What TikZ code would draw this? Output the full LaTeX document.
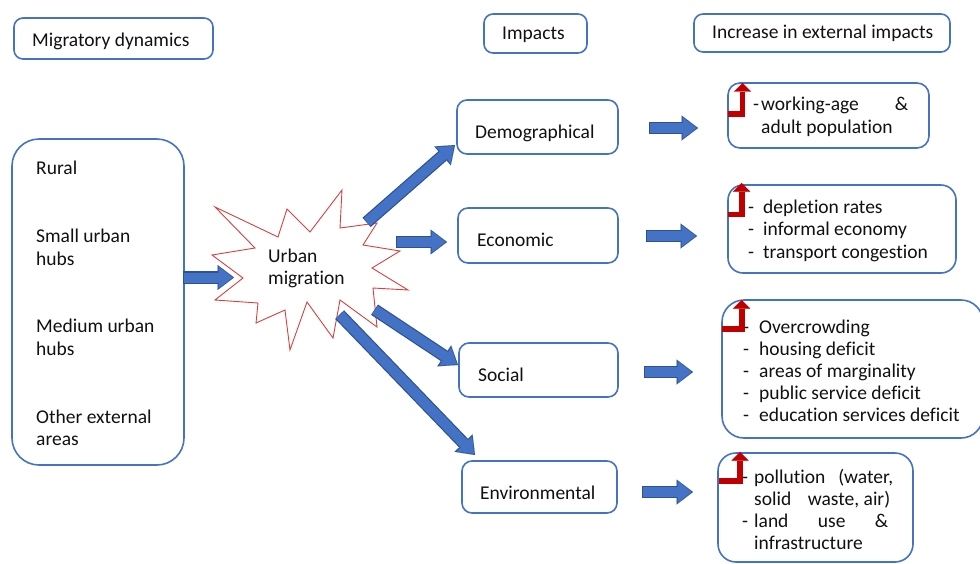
\documentclass[tikz,border=0pt]{standalone}
\usepackage{fontspec}
\setmainfont{Carlito}[Ligatures=NoCommon]
\usetikzlibrary{arrows.meta}

\definecolor{boxblue}{HTML}{4472C4}
\definecolor{arrowedge}{HTML}{2F528F}
\definecolor{burstred}{HTML}{D8403F}
\definecolor{uparrowred}{HTML}{C00000}
\definecolor{ink}{HTML}{111111}

\tikzset{
  txt/.style={inner sep=0pt, anchor=base west, text=ink,
    font=\fontsize{19.5}{22.5}\selectfont},
  frame/.style={draw=boxblue, line width=1.6pt, rounded corners=#1,
    inner sep=0pt, fill=white},
  rise/.style={draw=uparrowred, line width=5.8pt, line join=miter,
    -{Triangle[width=17pt,length=8.5pt,line width=0.01pt]}},
}

% thick block arrow with a darker rim
\newcommand{\blockarrow}[2]{%
  \draw[line width=12.4pt, arrowedge,
    -{Triangle[width=25pt,length=16.5pt,line width=0.01pt]},
    shorten <=-0.6pt] (#1) -- (#2);
  \draw[line width=10pt, boxblue,
    -{Triangle[width=21.6pt,length=14pt,line width=0.01pt]},
    shorten >=1.4pt] (#1) -- (#2);}

\begin{document}
\begin{tikzpicture}[x=1pt,y=-1pt]
\useasboundingbox (0,0) rectangle (980,563);

% ---- column headers
\node[frame=9pt, minimum width=199pt, minimum height=41pt] (migbox) at (113.5,38.5) {};
\node[txt] (migtxt) at (32,46) {Migratory dynamics};
\node[frame=9pt, minimum width=103pt, minimum height=39pt] (impbox) at (535.5,33.5) {};
\node[txt] (imptxt) at (502,39.5) {Impacts};
\node[frame=9pt, minimum width=256pt, minimum height=38pt] (incbox) at (822,33) {};
\node[txt] (inctxt) at (712,38.5) {Increase in external impacts};

% ---- origins
\node[frame=27pt, minimum width=172pt, minimum height=326pt] (origin) at (98,302) {};
\node[txt] (o1) at (36,174) {Rural};
\node[txt] (o2) at (36,242.5) {Small urban};
\node[txt] (o2b) at (36,265) {hubs};
\node[txt] (o3) at (36,332.5) {Medium urban};
\node[txt] (o3b) at (36,355) {hubs};
\node[txt] (o4) at (36,423) {Other external};
\node[txt] (o4b) at (36,445.5) {areas};

% ---- burst
\draw[burstred, line width=0.9pt, fill=white, line join=miter]
  (215,207) -- (278,237) -- (287,209) -- (310,232) -- (342,190) -- (340,228)
  -- (377,223) -- (363,245) -- (400,251) -- (372,268) -- (408,290) -- (373,288)
  -- (377,327) -- (340,300) -- (333,338) -- (307,302) -- (290,350) -- (285,310)
  -- (256,323) -- (258,303) -- (215,300) -- (243,278) -- (212,255) -- (255,248)
  -- cycle;
\node[txt] (u1) at (268,262) {Urban};
\node[txt] (u2) at (268,284.5) {migration};

% ---- impact categories
\node[frame=10pt, minimum width=161pt, minimum height=54pt] (demo) at (537.5,127) {};
\node[txt] (demotxt) at (475,138) {Demographical};
\node[frame=10pt, minimum width=160pt, minimum height=55pt] (econ) at (538,235.5) {};
\node[txt] (econtxt) at (477,246.5) {Economic};
\node[frame=10pt, minimum width=159pt, minimum height=54pt] (soc) at (538.5,370) {};
\node[txt] (soctxt) at (478,381.5) {Social};
\node[frame=10pt, minimum width=155pt, minimum height=52pt] (env) at (539.5,487) {};
\node[txt] (envtxt) at (480,499) {Environmental};

% ---- external impact lists
\node[frame=12pt, minimum width=201pt, minimum height=65pt] (r1) at (828.5,115.5) {};
\node[txt] (r1a) at (753,110) {\makebox[8pt][l]{-}\makebox[147pt][s]{working-age \&}};
\node[txt] (r1b) at (761,133) {adult population};

\node[frame=15pt, minimum width=228pt, minimum height=88pt] (r2) at (842,229) {};
\node[txt] (r2a) at (748,213) {\makebox[15pt][l]{-}depletion rates};
\node[txt] (r2b) at (748,235.5) {\makebox[15pt][l]{-}informal economy};
\node[txt] (r2c) at (748,258) {\makebox[15pt][l]{-}transport congestion};

\node[frame=22pt, minimum width=261pt, minimum height=138pt] (r3) at (852.5,369) {};
\node[txt] (r3a) at (743,333) {\makebox[16pt][l]{-}Overcrowding};
\node[txt] (r3b) at (743,355.2) {\makebox[16pt][l]{-}housing deficit};
\node[txt] (r3c) at (743,377.4) {\makebox[16pt][l]{-}areas of marginality};
\node[txt] (r3d) at (743,399.6) {\makebox[16pt][l]{-}public service deficit};
\node[txt] (r3e) at (743,421.8) {\makebox[16pt][l]{-}education services deficit};

\node[frame=18pt, minimum width=195pt, minimum height=109pt] (r4) at (815.5,507.5) {};
\node[txt] (r4a) at (742,483) {\makebox[12pt][l]{-}\makebox[139pt][s]{pollution (water,}};
\node[txt] (r4b) at (754,505) {\makebox[136pt][l]{solid\hfill waste, air)}};
\node[txt] (r4c) at (742,527) {\makebox[12pt][l]{-}\makebox[134pt][s]{land use \&}};
\node[txt] (r4d) at (754,549) {infrastructure};

% ---- arrow end points
\coordinate (a0s) at (184,277.5); \coordinate (a0e) at (234,277.5);
\coordinate (a1s) at (367,222);   \coordinate (a1e) at (455,145);
\coordinate (a2s) at (397,242);   \coordinate (a2e) at (447,242);
\coordinate (a3s) at (375,310);   \coordinate (a3e) at (458,365);
\coordinate (a4s) at (340,315);   \coordinate (a4e) at (475,455);
\coordinate (b1s) at (650,128);   \coordinate (b1e) at (698,128);
\coordinate (b2s) at (647,236);   \coordinate (b2e) at (697,236);
\coordinate (b3s) at (645,372);   \coordinate (b3e) at (693,372);
\coordinate (b4s) at (643,492);   \coordinate (b4e) at (693,492);

\blockarrow{a0s}{a0e}
\blockarrow{a1s}{a1e}
\blockarrow{a2s}{a2e}
\blockarrow{a3s}{a3e}
\blockarrow{a4s}{a4e}
\blockarrow{b1s}{b1e}
\blockarrow{b2s}{b2e}
\blockarrow{b3s}{b3e}
\blockarrow{b4s}{b4e}

% ---- red "increase" markers
\coordinate (i1s) at (728,114);   \coordinate (i1e) at (742.5,83);
\coordinate (i2s) at (728,214.5); \coordinate (i2e) at (741.7,183);
\coordinate (i3s) at (722,329);   \coordinate (i3e) at (741.7,300);
\coordinate (i4s) at (719,481);   \coordinate (i4e) at (740,452);
\draw[rise] (i1s) -| (i1e);
\draw[rise] (i2s) -| (i2e);
\draw[rise] (i3s) -| (i3e);
\draw[rise] (i4s) -| (i4e);
\end{tikzpicture}
\end{document}
